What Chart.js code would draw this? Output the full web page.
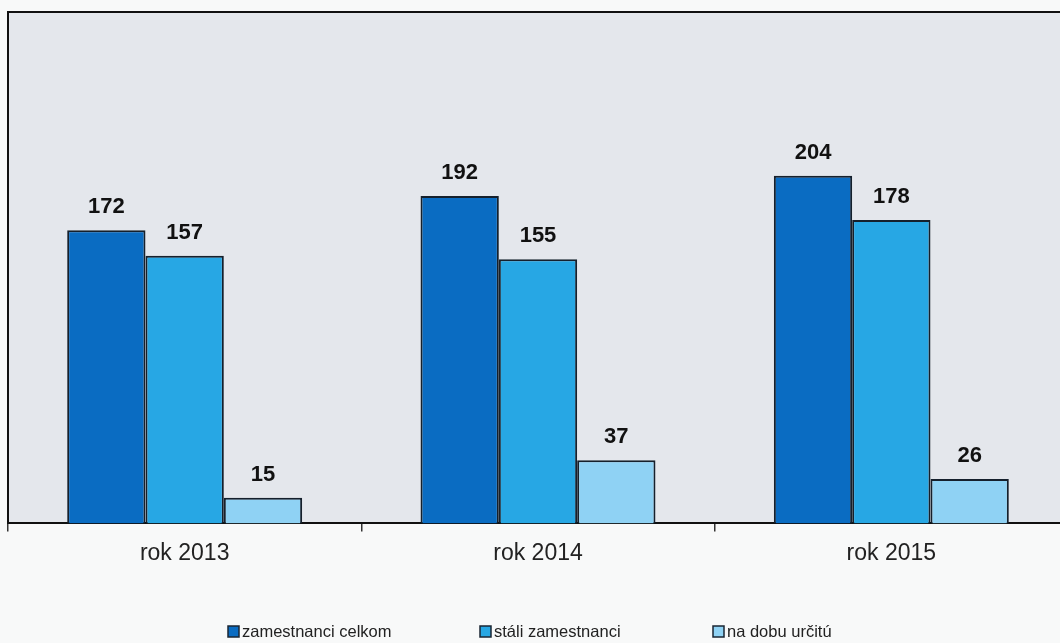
<!DOCTYPE html>
<html>
<head>
<meta charset="utf-8">
<script src="https://cdn.jsdelivr.net/npm/chart.js@4.4.0/dist/chart.umd.min.js"></script>
<style>
  html, body { margin: 0; padding: 0; background: #f8f9f9; overflow: hidden; }
  #wrap { width: 1068px; height: 643px; }
</style>
</head>
<body>
<div id="wrap"><canvas id="chart"></canvas></div>
<script>
// values
const years = ["rok 2013", "rok 2014", "rok 2015"];
const celkom = [172, 192, 204];
const stali = [157, 155, 178];
const naDobuUrcitu = [15, 37, 26];
const seriesNames = ["zamestnanci celkom", "stáli zamestnanci", "na dobu určitú"];
const seriesColors = ["#0a6cc2", "#27a7e4", "#8fd2f4"];

// gray plot area + black frame on top/left
const plotBg = {
    id: "plotBg",
    beforeDraw(chart) {
        const a = chart.chartArea, ctx = chart.ctx;
        ctx.save();
        ctx.fillStyle = "#e4e7ec";
        ctx.fillRect(a.left, a.top, a.right - a.left, a.bottom - a.top);
        ctx.strokeStyle = "#111";
        ctx.lineWidth = 2;
        ctx.beginPath();
        ctx.moveTo(a.left, a.bottom);
        ctx.lineTo(a.left, a.top);
        ctx.lineTo(a.right, a.top);
        ctx.stroke();
        ctx.restore();
    }
};

// bold numbers over the bars
const barValues = {
    id: "barValues",
    afterDatasetsDraw(chart) {
        const ctx = chart.ctx;
        ctx.save();
        ctx.font = "bold 22px 'Liberation Sans', Arial, sans-serif";
        ctx.fillStyle = "#111";
        ctx.textAlign = "center";
        ctx.textBaseline = "middle";
        chart.data.datasets.forEach((ds, i) => {
            chart.getDatasetMeta(i).data.forEach((bar, j) => {
                ctx.fillText(ds.data[j], bar.x, bar.y - 23);
            });
        });
        ctx.restore();
    }
};

// legend drawn by hand so the spacing can match
const bottomLegend = {
    id: "bottomLegend",
    afterDraw(chart) {
        const ctx = chart.ctx;
        const xs = [228, 480, 713];
        const y = 632;
        ctx.save();
        ctx.font = "16.5px 'Liberation Sans', Arial, sans-serif";
        ctx.textBaseline = "middle";
        chart.data.datasets.forEach((ds, i) => {
            ctx.fillStyle = ds.backgroundColor;
            ctx.fillRect(xs[i], y - 6, 11, 11);
            ctx.strokeStyle = "#1a2633";
            ctx.lineWidth = 1.5;
            ctx.strokeRect(xs[i], y - 6, 11, 11);
            ctx.fillStyle = "#222";
            ctx.fillText(ds.label, xs[i] + 14, y);
        });
        ctx.restore();
    }
};

const ctx = document.getElementById("chart").getContext("2d");
new Chart(ctx, {
    type: "bar",
    data: {
        labels: years,
        datasets: [celkom, stali, naDobuUrcitu].map((vals, i) => ({
            label: seriesNames[i],
            data: vals,
            backgroundColor: seriesColors[i],
            borderColor: "#15202c",
            borderWidth: 2,
            borderSkipped: "bottom",
            barPercentage: 1,
            categoryPercentage: 0.665
        }))
    },
    options: {
        responsive: true,
        maintainAspectRatio: false,
        animation: false,
        layout: { padding: { left: 8, top: 12, right: 0, bottom: 68 } },
        plugins: {
            legend: { display: false },
            tooltip: { enabled: false }
        },
        scales: {
            x: {
                offset: true,
                grid: {
                    display: true,
                    offset: true,
                    drawOnChartArea: false,
                    drawTicks: true,
                    tickLength: 8,
                    color: "#333",
                    lineWidth: 1.5
                },
                border: { display: true, color: "#111", width: 2 },
                ticks: {
                    color: "#222",
                    padding: 8,
                    font: { family: "'Liberation Sans', Arial, sans-serif", size: 23 }
                }
            },
            y: {
                display: false,
                min: 0,
                max: 300
            }
        }
    },
    plugins: [plotBg, barValues, bottomLegend]
});
</script>
</body>
</html>
